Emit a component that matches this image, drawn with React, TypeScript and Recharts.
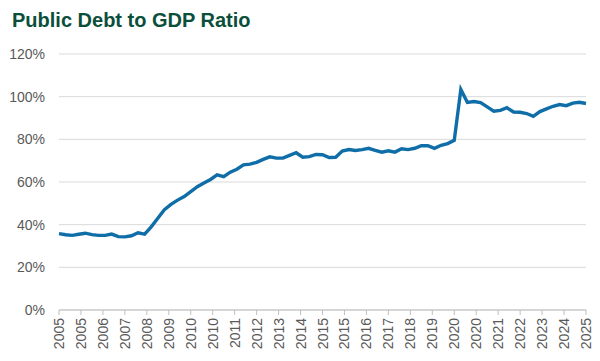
import React from 'react';
import { LineChart, Line, XAxis, YAxis, CartesianGrid } from 'recharts';

const title = 'Public Debt to GDP Ratio';

// Quarterly observations, 2005 Q1 to 2025 Q1 (percent of GDP)
const debtRatio: number[] = [
  35.8, 35.3, 35.0, 35.5, 36.0, 35.3, 35.0, 35.0,
  35.6, 34.4, 34.3, 34.8, 36.2, 35.6, 39.0, 43.0,
  47.0, 49.5, 51.5, 53.2, 55.5, 57.8, 59.5, 61.2,
  63.3, 62.5, 64.6, 66.0, 68.0, 68.4, 69.2, 70.6,
  71.8, 71.2, 71.2, 72.5, 73.7, 71.6, 71.9, 72.9,
  72.8, 71.5, 71.6, 74.5, 75.2, 74.8, 75.2, 75.8,
  74.8, 74.0, 74.6, 74.0, 75.6, 75.2, 75.8, 77.0,
  77.0, 75.8, 77.2, 78.0, 79.5, 103.4, 97.3, 97.7,
  97.2, 95.2, 93.2, 93.6, 94.8, 92.8, 92.7, 92.1,
  90.8, 93.0, 94.3, 95.5, 96.3, 95.8, 97.0, 97.4,
  96.8,
];

// Axis ticks every 10 months from Jan 2005
const tickLabels: string[] = [
  '2005', '2005', '2006', '2007', '2008', '2009', '2010', '2010', '2011',
  '2012', '2013', '2014', '2015', '2015', '2016', '2017', '2018', '2019',
  '2020', '2020', '2021', '2022', '2023', '2024', '2025',
];
const tickStepMonths = 10;
const monthsPerObs = 3;

const yTicks: number[] = [0, 20, 40, 60, 80, 100, 120];

const data = debtRatio.map((v, i) => ({ month: i * monthsPerObs, ratio: v }));
const xTicks = tickLabels.map((_, i) => i * tickStepMonths);

const FONT = '"Liberation Sans", Arial, sans-serif';

const XTick = (props: any) => {
  const { x, y, payload } = props;
  const idx = Math.round(payload.value / tickStepMonths);
  return (
    <text
      x={x}
      y={y}
      transform={`rotate(-90, ${x}, ${y})`}
      textAnchor="end"
      dy="0.36em"
      fill="#595959"
      fontSize={14}
      fontFamily={FONT}
    >
      {tickLabels[idx]}
    </text>
  );
};

export default function App() {
  return (
    <div
      style={{
        position: 'absolute',
        left: 0,
        top: 0,
        width: 600,
        height: 361,
        background: '#fff',
        fontFamily: FONT,
      }}
    >
      <div
        style={{
          position: 'absolute',
          left: 12,
          top: 10,
          fontSize: 20,
          lineHeight: '20px',
          fontWeight: 700,
          color: '#0B4F3B',
          whiteSpace: 'nowrap',
        }}
      >
        {title}
      </div>
      <LineChart
        width={600}
        height={361}
        data={data}
        margin={{ top: 54, right: 14, bottom: 0, left: 0 }}
      >
        <CartesianGrid horizontal vertical={false} stroke="#D9D9D9" strokeWidth={1} />
        <XAxis
          dataKey="month"
          type="number"
          domain={[0, 240]}
          ticks={xTicks}
          interval={0}
          height={51}
          stroke="#BFBFBF"
          tickSize={5}
          tickMargin={3}
          tick={<XTick />}
        />
        <YAxis
          domain={[0, 120]}
          ticks={yTicks}
          width={59}
          axisLine={false}
          tickLine={false}
          tickSize={0}
          tickMargin={14}
          tickFormatter={(v: number) => `${v}%`}
          tick={{ fill: '#595959', fontSize: 14, fontFamily: FONT }}
        />
        <Line
          type="linear"
          dataKey="ratio"
          stroke="#0F6EA8"
          strokeWidth={3.4}
          dot={false}
          isAnimationActive={false}
        />
      </LineChart>
    </div>
  );
}
